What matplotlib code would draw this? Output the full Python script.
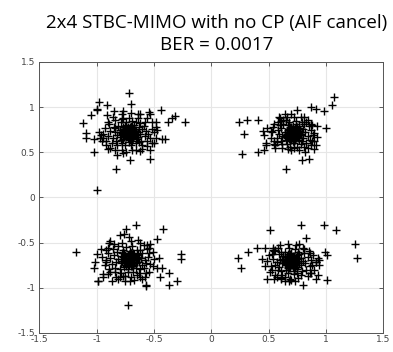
import matplotlib
matplotlib.use("Agg")
import matplotlib.pyplot as plt

title_lines = ["2x4 STBC-MIMO with no CP (AIF cancel)", "BER = 0.0017"]
ticks = [-1.5, -1, -0.5, 0, 0.5, 1, 1.5]
tick_labels = ["-1.5", "-1", "-0.5", "0", "0.5", "1", "1.5"]

# top-left cluster
tl_x = [-0.72, -0.70, -0.75, -0.68, -0.78, -0.66, -0.73, -0.71, -0.80, -0.64,
        -0.76, -0.69, -0.62, -0.82, -0.74, -0.67, -0.79, -0.60, -0.77, -0.65,
        -0.84, -0.70, -0.73, -0.68, -0.75, -0.71, -0.63, -0.81, -0.58, -0.86,
        -0.72, -0.66, -0.78, -0.74, -0.69, -0.61, -0.88, -0.57, -0.83, -0.62,
        -0.90, -0.55, -0.76, -0.69, -0.64, -0.80, -0.73, -0.67, -0.77, -0.71,
        -0.59, -0.85, -0.63, -0.92, -0.53, -0.79, -0.66, -0.87, -0.56, -0.75,
        -0.70, -0.60, -0.82, -0.94, -0.52, -0.78, -0.64, -0.72, -0.89, -0.58,
        -0.95, -0.97, -0.92, -0.88, -0.84, -0.78, -0.74, -0.66, -0.60, -0.56,
        -0.50, -0.48, -0.50, -0.48, -0.52, -0.56, -0.62, -0.70, -0.78, -0.84,
        -0.90, -0.93, -0.98,
        -0.715, -0.70, -0.98, -1.00, -1.00, -0.91, -1.05, -0.91, -1.12, -1.09,
        -1.09, -1.02, -1.02, -0.83, -1.00, -0.85, -0.77, -0.86, -0.64, -0.54,
        -0.53, -0.44, -0.38, -0.34, -0.32, -0.23, -0.48, -0.47, -0.43, -0.40,
        -0.52, -0.53, -0.62, -0.53, -0.71, -0.77, -0.82, -0.90, -0.69, -0.96,
        -0.94, -0.84, -0.77]
tl_y = [0.72, 0.70, 0.74, 0.75, 0.70, 0.69, 0.66, 0.78, 0.75, 0.73,
        0.67, 0.63, 0.70, 0.69, 0.80, 0.80, 0.64, 0.76, 0.78, 0.65,
        0.72, 0.68, 0.75, 0.71, 0.69, 0.74, 0.78, 0.79, 0.68, 0.66,
        0.61, 0.60, 0.60, 0.84, 0.85, 0.63, 0.74, 0.74, 0.62, 0.82,
        0.68, 0.70, 0.72, 0.77, 0.67, 0.67, 0.70, 0.73, 0.76, 0.65,
        0.79, 0.78, 0.61, 0.63, 0.66, 0.83, 0.84, 0.60, 0.62, 0.58,
        0.58, 0.58, 0.58, 0.70, 0.76, 0.87, 0.88, 0.88, 0.81, 0.84,
        0.62, 0.66, 0.58, 0.55, 0.52, 0.53, 0.50, 0.52, 0.54, 0.57,
        0.60, 0.66, 0.72, 0.78, 0.84, 0.88, 0.92, 0.93, 0.92, 0.86,
        0.84, 0.77, 0.72,
        1.16, 1.04, 1.06, 0.98, 0.97, 1.02, 0.91, 0.91, 0.82, 0.71,
        0.66, 0.65, 0.50, 0.32, 0.08, 0.96, 0.96, 0.89, 0.92, 0.95,
        0.92, 0.97, 0.84, 0.88, 0.90, 0.83, 0.83, 0.75, 0.65, 0.65,
        0.60, 0.53, 0.51, 0.43, 0.41, 0.49, 0.47, 0.54, 0.53, 0.69,
        0.66, 0.77, 0.88]
tl_core_x = [-0.72, -0.70, -0.74, -0.69, -0.75, -0.71, -0.73, -0.68, -0.76, -0.70,
             -0.67, -0.77, -0.72, -0.74, -0.69, -0.71, -0.66, -0.78, -0.73, -0.70,
             -0.75, -0.68, -0.72, -0.71, -0.74, -0.69, -0.76, -0.67, -0.73, -0.70,
             -0.65, -0.79, -0.72, -0.68, -0.75, -0.71, -0.74, -0.69, -0.77, -0.66]
tl_core_y = [0.72, 0.71, 0.73, 0.74, 0.70, 0.69, 0.76, 0.72, 0.72, 0.75,
             0.71, 0.74, 0.68, 0.67, 0.68, 0.77, 0.74, 0.71, 0.71, 0.66,
             0.76, 0.69, 0.75, 0.73, 0.70, 0.70, 0.68, 0.76, 0.78, 0.79,
             0.70, 0.73, 0.65, 0.66, 0.79, 0.64, 0.77, 0.78, 0.65, 0.67]

# top-right cluster
tr_x = [0.72, 0.70, 0.75, 0.68, 0.78, 0.66, 0.73, 0.71, 0.80, 0.64,
        0.76, 0.69, 0.62, 0.82, 0.74, 0.67, 0.79, 0.61, 0.77, 0.65,
        0.84, 0.70, 0.73, 0.69, 0.75, 0.71, 0.63, 0.81, 0.59, 0.86,
        0.72, 0.66, 0.78, 0.74, 0.68, 0.61, 0.87, 0.58, 0.83, 0.63,
        0.89, 0.57, 0.76, 0.69, 0.64, 0.80, 0.73, 0.67, 0.77, 0.71,
        0.60, 0.85, 0.62, 0.55, 0.79, 0.65, 0.87, 0.56, 0.75, 0.69,
        0.81, 0.53, 0.66, 0.72, 0.60,
        0.52, 0.54, 0.58, 0.57, 0.62, 0.70, 0.77, 0.84, 0.88, 0.90,
        0.88, 0.84, 0.78, 0.70, 0.64, 0.52,
        1.07, 1.05, 0.98, 0.87, 0.91, 0.75, 0.24, 0.31, 0.41, 0.29,
        0.27, 0.41, 0.46, 0.48, 0.48, 0.65, 0.79, 0.85, 0.82, 0.90,
        0.91, 0.90, 1.00, 0.92, 0.92, 0.87, 0.81, 0.83, 0.45, 0.49,
        0.46, 0.59, 0.61, 0.55, 0.56, 0.67, 0.72, 0.55]
tr_y = [0.71, 0.68, 0.73, 0.76, 0.69, 0.70, 0.64, 0.79, 0.76, 0.73,
        0.66, 0.62, 0.68, 0.72, 0.81, 0.80, 0.63, 0.77, 0.79, 0.64,
        0.68, 0.73, 0.76, 0.70, 0.68, 0.66, 0.81, 0.81, 0.70, 0.64,
        0.60, 0.59, 0.59, 0.85, 0.84, 0.62, 0.75, 0.75, 0.60, 0.86,
        0.69, 0.66, 0.74, 0.78, 0.67, 0.66, 0.69, 0.73, 0.77, 0.63,
        0.80, 0.79, 0.59, 0.63, 0.84, 0.86, 0.58, 0.58, 0.56, 0.56,
        0.56, 0.72, 0.89, 0.89, 0.88,
        0.66, 0.78, 0.83, 0.61, 0.55, 0.53, 0.53, 0.55, 0.62, 0.71,
        0.80, 0.86, 0.89, 0.92, 0.92, 0.74,
        1.11, 1.02, 0.96, 1.00, 0.98, 0.97, 0.84, 0.86, 0.86, 0.70,
        0.48, 0.50, 0.53, 0.58, 0.60, 0.32, 0.41, 0.43, 0.50, 0.54,
        0.58, 0.62, 0.77, 0.79, 0.67, 0.81, 0.89, 0.84, 0.74, 0.77,
        0.69, 0.89, 0.85, 0.59, 0.55, 0.54, 0.55, 0.81]
tr_core_x = [0.72, 0.70, 0.74, 0.69, 0.75, 0.71, 0.73, 0.68, 0.76, 0.70,
             0.67, 0.77, 0.72, 0.74, 0.69, 0.71, 0.66, 0.78, 0.73, 0.70,
             0.75, 0.68, 0.72, 0.71, 0.74, 0.69, 0.76, 0.67, 0.73, 0.70,
             0.65, 0.79, 0.72, 0.68, 0.75, 0.71, 0.74, 0.69, 0.77, 0.66]
tr_core_y = [0.71, 0.70, 0.72, 0.73, 0.69, 0.68, 0.75, 0.71, 0.71, 0.74,
             0.70, 0.73, 0.67, 0.66, 0.67, 0.76, 0.73, 0.70, 0.70, 0.65,
             0.75, 0.68, 0.74, 0.72, 0.69, 0.69, 0.67, 0.75, 0.77, 0.78,
             0.69, 0.72, 0.64, 0.65, 0.78, 0.63, 0.76, 0.77, 0.64, 0.66]

# bottom-left cluster
bl_x = [-0.71, -0.69, -0.74, -0.67, -0.77, -0.65, -0.72, -0.70, -0.79, -0.63,
        -0.75, -0.68, -0.61, -0.81, -0.73, -0.66, -0.78, -0.60, -0.76, -0.64,
        -0.83, -0.69, -0.72, -0.67, -0.74, -0.70, -0.62, -0.80, -0.58, -0.85,
        -0.71, -0.65, -0.77, -0.73, -0.68, -0.60, -0.87, -0.57, -0.82, -0.63,
        -0.88, -0.55, -0.75, -0.68, -0.63, -0.79, -0.72, -0.66, -0.76, -0.70,
        -0.59, -0.84, -0.62, -0.90, -0.54, -0.79, -0.65, -0.86, -0.56, -0.74,
        -0.69, -0.59, -0.81, -0.92, -0.53, -0.77, -0.62, -0.70, -0.88, -0.57,
        -0.95, -0.93, -0.90, -0.85, -0.78, -0.70, -0.62, -0.56, -0.51, -0.50,
        -0.51, -0.54, -0.60, -0.67, -0.75, -0.83, -0.90,
        -0.66, -0.42, -0.74, -0.76, -0.80, -0.88, -0.89, -0.72, -0.64, -1.18,
        -1.00, -1.01, -1.02, -0.96, -0.92, -0.99, -0.99, -0.94, -0.94, -0.87,
        -0.80, -0.75, -0.71, -0.57, -0.57, -0.58, -0.73, -0.47, -0.46, -0.47,
        -0.43, -0.45, -0.37, -0.37, -0.30, -0.26, -0.26, -0.53, -0.54, -0.92,
        -0.89, -0.84, -0.81]
bl_y = [-0.69, -0.67, -0.71, -0.73, -0.66, -0.68, -0.63, -0.76, -0.73, -0.71,
        -0.64, -0.61, -0.67, -0.68, -0.79, -0.78, -0.61, -0.75, -0.77, -0.63,
        -0.71, -0.72, -0.74, -0.69, -0.67, -0.65, -0.79, -0.79, -0.69, -0.64,
        -0.59, -0.58, -0.58, -0.83, -0.82, -0.61, -0.74, -0.73, -0.60, -0.84,
        -0.67, -0.66, -0.71, -0.76, -0.66, -0.65, -0.68, -0.72, -0.75, -0.62,
        -0.78, -0.78, -0.58, -0.62, -0.61, -0.84, -0.86, -0.57, -0.57, -0.55,
        -0.54, -0.53, -0.54, -0.69, -0.74, -0.87, -0.88, -0.88, -0.82, -0.84,
        -0.66, -0.75, -0.56, -0.52, -0.50, -0.48, -0.50, -0.53, -0.60, -0.68,
        -0.76, -0.82, -0.90, -0.91, -0.92, -0.88, -0.85,
        -0.30, -0.35, -0.35, -0.40, -0.41, -0.48, -0.50, -0.44, -0.47, -0.60,
        -0.63, -0.71, -0.78, -0.57, -0.58, -0.93, -0.93, -0.85, -0.88, -0.93,
        -0.88, -0.87, -0.93, -0.98, -0.97, -0.88, -1.19, -0.46, -0.67, -0.78,
        -0.78, -0.88, -0.84, -0.97, -0.93, -0.63, -0.68, -0.51, -0.56, -0.71,
        -0.79, -0.82, -0.90]
bl_core_x = [-0.71, -0.69, -0.73, -0.68, -0.74, -0.70, -0.72, -0.67, -0.75, -0.69,
             -0.66, -0.76, -0.71, -0.73, -0.68, -0.70, -0.65, -0.77, -0.72, -0.69,
             -0.74, -0.67, -0.71, -0.70, -0.73, -0.68, -0.75, -0.66, -0.72, -0.69,
             -0.64, -0.78, -0.71, -0.67, -0.74, -0.70, -0.73, -0.68, -0.76, -0.65]
bl_core_y = [-0.69, -0.68, -0.70, -0.71, -0.67, -0.66, -0.73, -0.69, -0.69, -0.72,
             -0.68, -0.71, -0.65, -0.64, -0.65, -0.74, -0.71, -0.68, -0.68, -0.63,
             -0.73, -0.66, -0.72, -0.70, -0.67, -0.67, -0.65, -0.73, -0.75, -0.76,
             -0.67, -0.70, -0.62, -0.63, -0.76, -0.61, -0.74, -0.75, -0.62, -0.64]

# bottom-right cluster
br_x = [0.70, 0.68, 0.73, 0.66, 0.76, 0.64, 0.71, 0.69, 0.78, 0.62,
        0.74, 0.67, 0.60, 0.80, 0.72, 0.65, 0.77, 0.59, 0.75, 0.63,
        0.82, 0.68, 0.71, 0.66, 0.73, 0.69, 0.61, 0.79, 0.57, 0.84,
        0.70, 0.64, 0.76, 0.72, 0.67, 0.59, 0.86, 0.56, 0.81, 0.62,
        0.87, 0.54, 0.74, 0.67, 0.62, 0.78, 0.71, 0.65, 0.75, 0.69,
        0.58, 0.83, 0.61, 0.89, 0.53, 0.78, 0.64, 0.85, 0.55, 0.73,
        0.68, 0.58, 0.80, 0.91, 0.52, 0.76, 0.61, 0.69, 0.87, 0.56,
        0.49, 0.50, 0.54, 0.60, 0.67, 0.74, 0.81, 0.86, 0.93, 0.94,
        0.90, 0.84, 0.73, 0.64, 0.55, 0.51, 0.47,
        0.51, 0.78, 0.98, 1.09, 0.83, 0.77, 1.25, 1.27, 0.23, 0.26,
        0.32, 0.40, 0.47, 0.44, 0.54, 0.56, 0.99, 1.01, 0.94, 0.91,
        1.01, 0.91, 0.93, 0.80, 0.68, 0.70, 0.49, 0.53, 0.57, 0.61,
        0.75, 0.86, 0.88]
br_y = [-0.71, -0.69, -0.73, -0.75, -0.68, -0.70, -0.65, -0.78, -0.75, -0.73,
        -0.66, -0.63, -0.69, -0.70, -0.81, -0.80, -0.63, -0.77, -0.79, -0.65,
        -0.73, -0.74, -0.76, -0.71, -0.69, -0.67, -0.81, -0.81, -0.71, -0.66,
        -0.61, -0.60, -0.60, -0.85, -0.84, -0.63, -0.76, -0.75, -0.62, -0.86,
        -0.69, -0.68, -0.73, -0.78, -0.68, -0.67, -0.70, -0.74, -0.77, -0.64,
        -0.80, -0.80, -0.60, -0.64, -0.63, -0.86, -0.88, -0.59, -0.59, -0.57,
        -0.56, -0.56, -0.56, -0.71, -0.76, -0.89, -0.90, -0.90, -0.84, -0.86,
        -0.70, -0.64, -0.58, -0.53, -0.52, -0.53, -0.57, -0.62, -0.67, -0.75,
        -0.80, -0.87, -0.92, -0.93, -0.90, -0.82, -0.76,
        -0.36, -0.31, -0.31, -0.36, -0.45, -0.51, -0.52, -0.67, -0.67, -0.78,
        -0.60, -0.56, -0.56, -0.68, -0.56, -0.58, -0.60, -0.64, -0.69, -0.71,
        -0.91, -0.90, -0.86, -0.97, -0.93, -0.91, -0.90, -0.80, -0.88, -0.89,
        -0.84, -0.84, -0.75]
br_core_x = [0.70, 0.68, 0.72, 0.67, 0.73, 0.69, 0.71, 0.66, 0.74, 0.68,
             0.65, 0.75, 0.70, 0.72, 0.67, 0.69, 0.64, 0.76, 0.71, 0.68,
             0.73, 0.66, 0.70, 0.69, 0.72, 0.67, 0.74, 0.65, 0.71, 0.68,
             0.63, 0.77, 0.70, 0.66, 0.73, 0.69, 0.72, 0.67, 0.75, 0.64]
br_core_y = [-0.71, -0.70, -0.72, -0.73, -0.69, -0.68, -0.75, -0.71, -0.71, -0.74,
             -0.70, -0.73, -0.67, -0.66, -0.67, -0.76, -0.73, -0.70, -0.70, -0.65,
             -0.75, -0.68, -0.74, -0.72, -0.69, -0.69, -0.67, -0.75, -0.77, -0.78,
             -0.69, -0.72, -0.64, -0.65, -0.78, -0.63, -0.76, -0.77, -0.64, -0.66]

fig = plt.figure(figsize=(3.93, 3.52), dpi=100)
ax = fig.add_axes([0.100, 0.054, 0.875, 0.770])

for xs, ys in [(tl_x, tl_y), (tr_x, tr_y), (bl_x, bl_y), (br_x, br_y),
               (tl_core_x, tl_core_y), (tr_core_x, tr_core_y),
               (bl_core_x, bl_core_y), (br_core_x, br_core_y)]:
    ax.plot(xs, ys, linestyle="none", marker="+", color="black",
            markersize=5.2, markeredgewidth=1.0)

ax.set_xlim(-1.5, 1.5)
ax.set_ylim(-1.5, 1.5)
ax.set_xticks(ticks)
ax.set_xticklabels(tick_labels)
ax.set_yticks(ticks)
ax.set_yticklabels(tick_labels)
ax.grid(True, color="#e6e6e6", linewidth=0.8)
ax.set_axisbelow(True)
ax.tick_params(direction="in", length=3, width=0.6, colors="#444444",
               labelsize=6.5, top=True, right=True)
ax.tick_params(axis="x", pad=1.5)
ax.tick_params(axis="y", pad=3.0)
for s in ax.spines.values():
    s.set_color("#555555")
    s.set_linewidth(0.7)

fig.text(0.552, 0.920, title_lines[0], ha="center", va="baseline",
         fontsize=13.5, family="Open Sans", color="black")
fig.text(0.552, 0.858, title_lines[1], ha="center", va="baseline",
         fontsize=13.5, family="Open Sans", color="black")

fig.savefig("out.png", dpi=100)
